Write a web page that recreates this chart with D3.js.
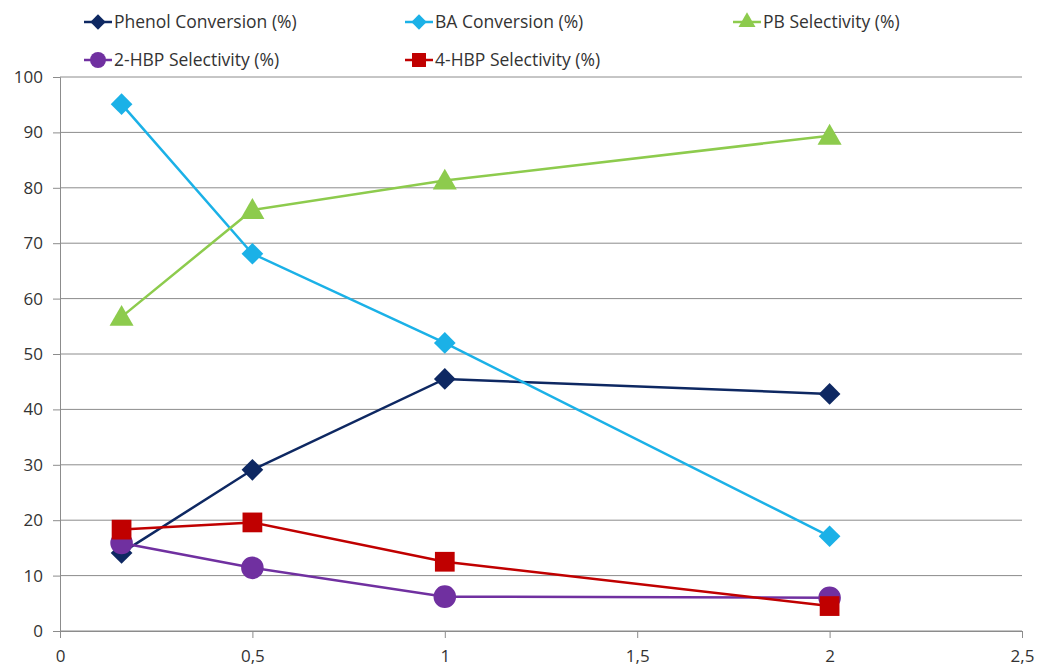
<!DOCTYPE html>
<html>
<head>
<meta charset="utf-8">
<script src="https://cdn.jsdelivr.net/npm/d3@7/dist/d3.min.js"></script>
<style>
  html, body { margin: 0; padding: 0; background: #fff; }
  svg { display: block; }
  text { font-family: "Open Sans", "Liberation Sans", sans-serif; fill: #333; }
</style>
</head>
<body>
<svg id="chart" width="1037" height="668"></svg>
<script>
// Catalyst ratio (x) vs conversion/selectivity (%)
const xValues = [0.16, 0.5, 1, 2];
const phenolConversion = [14.1, 29.1, 45.5, 42.8];
const baConversion = [95.1, 68.1, 52.0, 17.1];
const pbSelectivity = [56.7, 76.0, 81.3, 89.4];
const hbp2Selectivity = [15.9, 11.4, 6.2, 6.0];
const hbp4Selectivity = [18.3, 19.6, 12.5, 4.5];

const xTicks = [0, 0.5, 1, 1.5, 2, 2.5];
const xTickLabels = ["0", "0,5", "1", "1,5", "2", "2,5"];
const yTicks = [0, 10, 20, 30, 40, 50, 60, 70, 80, 90, 100];

const seriesNames = ["Phenol Conversion (%)", "BA Conversion (%)", "PB Selectivity (%)",
                     "2-HBP Selectivity (%)", "4-HBP Selectivity (%)"];
const seriesValues = [phenolConversion, baConversion, pbSelectivity, hbp2Selectivity, hbp4Selectivity];
const seriesColors = ["#0E2862", "#1BB1E7", "#8DCB4D", "#7030A0", "#C00000"];
const seriesShapes = ["diamond", "diamond", "triangle", "circle", "square"];

const svg = d3.select("#chart");
const plot = { left: 60, right: 1022, top: 77, bottom: 631 };

const x = d3.scaleLinear().domain([0, 2.5]).range([plot.left, plot.right]);
const y = d3.scaleLinear().domain([0, 100]).range([plot.bottom, plot.top]);

// Horizontal gridlines
svg.append("g")
  .selectAll("line")
  .data(yTicks)
  .join("line")
  .attr("x1", plot.left).attr("x2", plot.right)
  .attr("y1", d => y(d)).attr("y2", d => y(d))
  .attr("stroke", "#8c8c8c").attr("stroke-width", 1);

// Y axis
const yAxis = svg.append("g")
  .attr("transform", `translate(${plot.left},0)`)
  .call(d3.axisLeft(y).tickValues(yTicks).tickSize(7).tickPadding(10).tickFormat(d3.format("d")));
yAxis.select(".domain").attr("stroke", "#8c8c8c");
yAxis.selectAll(".tick line").attr("stroke", "#8c8c8c");
yAxis.selectAll("text").attr("font-size", 17).attr("fill", "#333")
  .attr("font-family", "'Open Sans', 'Liberation Sans', sans-serif");

// X axis
const xAxis = svg.append("g")
  .attr("transform", `translate(0,${plot.bottom})`)
  .call(d3.axisBottom(x).tickValues(xTicks).tickSize(7).tickPadding(12)
        .tickFormat((d, i) => xTickLabels[i]));
xAxis.select(".domain").attr("stroke", "#8c8c8c");
xAxis.selectAll(".tick line").attr("stroke", "#8c8c8c");
xAxis.selectAll("text").attr("font-size", 17).attr("fill", "#333")
  .attr("font-family", "'Open Sans', 'Liberation Sans', sans-serif");

const symbolTypes = {
  diamond: { type: d3.symbolDiamond2, size: 300 },
  triangle: { type: d3.symbolTriangle, size: 250 },
  circle: { type: d3.symbolCircle, size: 400 },
  square: { type: d3.symbolSquare, size: 390 }
};
function symbolPath(shape, scale = 1) {
  const s = symbolTypes[shape];
  return d3.symbol().type(s.type).size(s.size * scale)();
}

const line = d3.line().x((d, i) => x(xValues[i])).y(d => y(d));

// Series: line then markers, drawn in order
seriesValues.forEach((vals, si) => {
  const g = svg.append("g");
  g.append("path")
    .datum(vals)
    .attr("d", line)
    .attr("fill", "none")
    .attr("stroke", seriesColors[si])
    .attr("stroke-width", 2.5);
  g.selectAll("path.marker")
    .data(vals)
    .join("path")
    .attr("class", "marker")
    .attr("d", symbolPath(seriesShapes[si]))
    .attr("transform", (d, i) => {
      const off = seriesShapes[si] === "triangle" ? 2 : 0;
      return `translate(${x(xValues[i])},${y(d) + off})`;
    })
    .attr("fill", seriesColors[si]);
});

// Legend
const legendPos = [[84, 22], [405, 22], [733, 22], [84, 60], [405, 60]];
seriesNames.forEach((name, si) => {
  const [lx, ly] = legendPos[si];
  const g = svg.append("g").attr("transform", `translate(${lx},${ly})`);
  g.append("line").attr("x1", 0).attr("x2", 28).attr("y1", 0).attr("y2", 0)
    .attr("stroke", seriesColors[si]).attr("stroke-width", 2.5);
  g.append("path").attr("d", symbolPath(seriesShapes[si], 0.5))
    .attr("transform", "translate(14,0)")
    .attr("fill", seriesColors[si]);
  g.append("text").attr("x", 30).attr("y", 0).attr("dy", "0.35em")
    .attr("font-size", 17.5).text(name);
});
</script>
</body>
</html>
